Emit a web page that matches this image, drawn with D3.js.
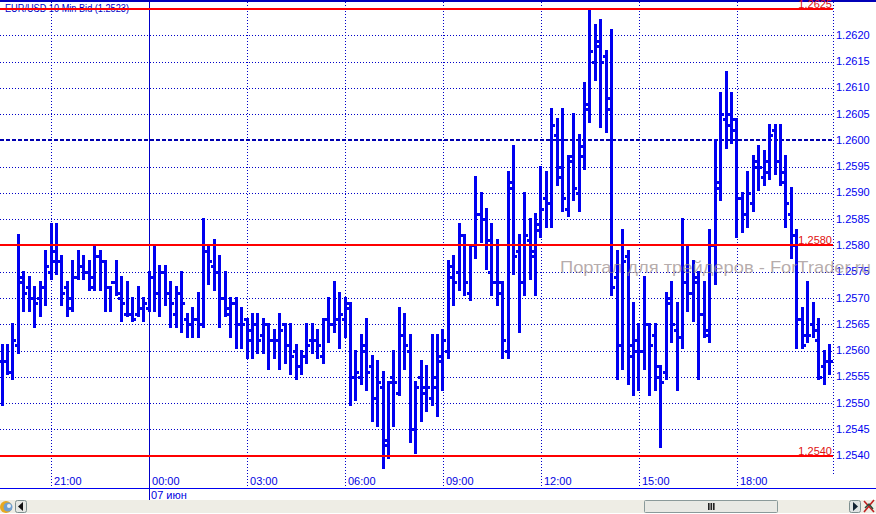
<!DOCTYPE html>
<html><head><meta charset="utf-8">
<script src="https://cdnjs.cloudflare.com/ajax/libs/d3/7.8.5/d3.min.js"></script>
<style>
html,body{margin:0;padding:0;background:#fff;overflow:hidden}
svg{display:block}
text{font-family:"Liberation Sans",Arial,sans-serif}
</style></head><body>
<svg id="c" width="876" height="514"></svg>
<script>
const title = "EUR/USD 10 Min Bid (1.2523)";
const watermark = "Портал для трейдеров - ForTrader.ru";
const dateLabel = "07 июн";
const priceTicks = [1.2620,1.2615,1.2610,1.2605,1.2600,1.2595,1.2590,1.2585,1.2580,1.2575,1.2570,1.2565,1.2560,1.2555,1.2550,1.2545,1.2540];
const timeBars = [9,45,63,81,99,117,135];
const timeLabels = ["21:00","03:00","06:00","09:00","12:00","15:00","18:00"];
const midnightBar = 27;
const midnightLabel = "00:00";
const levels = [1.2625,1.2580,1.2540];
const levelLabels = ["1.2625","1.2580","1.2540"];
const dashedLevel = 1.2600;

const highs = [1.2561,1.2561,1.2565,1.2582,1.2575,1.2574,1.2572,1.2573,1.2579,1.2584,1.2584,1.2578,1.2573,1.2577,1.2579,1.2578,1.2577,1.2580,1.2579,1.2577,1.2572,1.2577,1.2574,1.2573,1.2570,1.2572,1.2570,1.2575,1.2580,1.2576,1.2576,1.2573,1.2572,1.2575,1.2567,1.2568,1.2571,1.2585,1.2580,1.2581,1.2578,1.2575,1.2570,1.2570,1.2568,1.2566,1.2567,1.2567,1.2566,1.2565,1.2564,1.2567,1.2565,1.2565,1.2561,1.2560,1.2565,1.2565,1.2564,1.2566,1.2570,1.2573,1.2571,1.2570,1.2569,1.2560,1.2563,1.2566,1.2559,1.2558,1.2556,1.2554,1.2560,1.2568,1.2567,1.2563,1.2554,1.2558,1.2557,1.2563,1.2563,1.2564,1.2577,1.2578,1.2584,1.2582,1.2580,1.2593,1.2590,1.2587,1.2584,1.2581,1.2573,1.2594,1.2599,1.2582,1.2590,1.2585,1.2586,1.2595,1.2594,1.2606,1.2604,1.2606,1.2597,1.2605,1.2601,1.2611,1.2625,1.2622,1.2623,1.2617,1.2621,1.2579,1.2583,1.2579,1.2569,1.2565,1.2574,1.2565,1.2565,1.2557,1.2571,1.2573,1.2569,1.2585,1.2580,1.2577,1.2575,1.2573,1.2583,1.2600,1.2609,1.2613,1.2609,1.2604,1.2590,1.2594,1.2597,1.2599,1.2598,1.2603,1.2603,1.2603,1.2597,1.2591,1.2583,1.2568,1.2573,1.2569,1.2566,1.2560,1.2561];
const lows = [1.2549,1.2555,1.2554,1.2559,1.2567,1.2567,1.2564,1.2566,1.2568,1.2573,
1.2574,1.2568,1.2566,1.2567,1.2573,1.2573,1.2571,1.2571,1.2571,1.2567,
1.2567,1.2570,1.2565,1.2566,1.2565,1.2566,1.2565,1.2567,1.2567,1.2566,
1.2568,1.2564,1.2564,1.2563,1.2562,1.2562,1.2562,1.2564,1.2572,1.2571,
1.2564,1.2566,1.2562,1.2560,1.2560,1.2558,1.2558,1.2559,1.2559,1.2556,
1.2558,1.2556,1.2557,1.2555,1.2554,1.2555,1.2557,1.2559,1.2558,1.2557,
1.2561,1.2563,1.2560,1.2562,1.2549,1.2550,1.2553,1.2552,1.2546,1.2545,
1.2537,1.2539,1.2545,1.2551,1.2556,1.2542,1.2540,1.2546,1.2548,1.2549,
1.2547,1.2552,1.2558,1.2568,1.2571,1.2570,1.2569,1.2577,1.2580,1.2575,
1.2570,1.2568,1.2558,1.2558,1.2574,1.2563,1.2570,1.2573,1.2570,1.2581,
1.2583,1.2583,1.2591,1.2586,1.2585,1.2588,1.2586,1.2594,1.2603,1.2611,
1.2602,1.2601,1.2570,1.2554,1.2556,1.2553,1.2551,1.2552,1.2556,1.2551,
1.2552,1.2541,1.2554,1.2561,1.2552,1.2560,1.2567,1.2565,1.2554,1.2562,
1.2561,1.2572,1.2588,1.2598,1.2599,1.2581,1.2582,1.2583,1.2586,1.2590,
1.2591,1.2592,1.2593,1.2591,1.2583,1.2577,1.2560,1.2560,1.2561,1.2562,
1.2554,1.2553,1.2555];
const opens = [1.2558,1.2558,1.2556,1.2561,1.2573,1.2572,1.2570,1.2570,1.2572,1.2575,1.2579,1.2577,1.2572,1.2568,1.2574,1.2576,1.2575,1.2574,1.2578,1.2577,1.2572,1.2573,1.2570,1.2567,1.2567,1.2567,1.2568,1.2568,1.2574,1.2571,1.2575,1.2571,1.2567,1.2571,1.2566,1.2565,1.2566,1.2565,1.2579,1.2576,1.2575,1.2570,1.2567,1.2569,1.2565,1.2566,1.2562,1.2565,1.2563,1.2565,1.2562,1.2562,1.2565,1.2561,1.2560,1.2557,1.2559,1.2562,1.2562,1.2559,1.2566,1.2565,1.2566,1.2566,1.2568,1.2555,1.2555,1.2561,1.2557,1.2551,1.2553,1.2542,1.2555,1.2552,1.2563,1.2560,1.2545,1.2555,1.2553,1.2551,1.2553,1.2559,1.2560,1.2574,1.2575,1.2582,1.2571,1.2580,1.2586,1.2585,1.2575,1.2573,1.2573,1.2560,1.2591,1.2579,1.2573,1.2581,1.2579,1.2583,1.2589,1.2588,1.2601,1.2593,1.2587,1.2596,1.2590,1.2597,1.2606,1.2615,1.2618,1.2616,1.2606,1.2574,1.2561,1.2578,1.2559,1.2560,1.2560,1.2565,1.2563,1.2555,1.2556,1.2569,1.2564,1.25625,1.2573,1.2571,1.2574,1.2567,1.2564,1.2580,1.2592,1.2604,1.2605,1.2602,1.2589,1.2586,1.2588,1.2595,1.2593,1.2596,1.2602,1.2596,1.2592,1.2586,1.2582,1.2566,1.2563,1.2565,1.2562,1.2557,1.2558];
const closes = [1.2558,1.2556,1.2562,1.2574,1.2571,1.2570,1.2569,1.2572,1.2576,1.2577,1.2577,1.2571,1.2570,1.2574,1.2576,1.2575,1.2572,1.2578,1.2577,1.2572,1.2573,1.2571,1.2569,1.2567,1.2566,1.2568,1.2569,1.2574,1.2571,1.2575,1.2571,1.2569,1.2571,1.2569,1.2565,1.2566,1.2565,1.2579,1.2577,1.2575,1.2570,1.2568,1.2569,1.2565,1.2565,1.2564,1.2565,1.2562,1.2565,1.2562,1.2562,1.2564,1.2561,1.2559,1.2557,1.2559,1.2561,1.2562,1.2561,1.2566,1.2565,1.2566,1.2567,1.2569,1.2555,1.2556,1.2560,1.2556,1.2551,1.2554,1.2543,1.2554,1.2554,1.2563,1.2561,1.2545,1.2553,1.2552,1.2553,1.2555,1.2558,1.2562,1.2576,1.2573,1.2582,1.2573,1.2580,1.2586,1.2585,1.2581,1.2573,1.2571,1.2562,1.2592,1.2578,1.2573,1.2582,1.2578,1.2584,1.2587,1.2588,1.2603,1.2595,1.2589,1.2597,1.2591,1.2599,1.2607,1.2617,1.2619,1.2615,1.2608,1.2572,1.2561,1.2577,1.2561,1.2562,1.2560,1.2565,1.2561,1.2557,1.2554,1.2570,1.2565,1.25625,1.2573,1.2571,1.2573,1.2567,1.2563,1.2580,1.2591,1.2605,1.2603,1.2604,1.2589,1.2586,1.2590,1.2596,1.2595,1.2594,1.2601,1.2596,1.2594,1.2588,1.2580,1.2566,1.2561,1.2563,1.2564,1.2555,1.2558,1.2558];

const INK = "#0000f0", GRID = "#0000c8", RED = "#ff0000";
const svg = d3.select("#c");
const x = d3.scaleLinear().domain([0,152]).range([2.05,829.5]);
const y = d3.scaleLinear().domain([1.2540,1.2625]).range([455.6,9]);
const px = v => Math.round(v)+0.5;
const rightEdge = 833, axisBottom = 488;

svg.append("g").selectAll("line").data(priceTicks.filter(p=>p!==dashedLevel)).join("line")
  .attr("x1",0).attr("x2",rightEdge).attr("y1",d=>px(y(d))).attr("y2",d=>px(y(d)))
  .attr("stroke",GRID).attr("stroke-dasharray","1 2").attr("shape-rendering","crispEdges");
svg.append("g").selectAll("line").data(timeBars).join("line")
  .attr("x1",d=>px(x(d))).attr("x2",d=>px(x(d))).attr("y1",2).attr("y2",axisBottom)
  .attr("stroke",GRID).attr("stroke-dasharray","1 2").attr("shape-rendering","crispEdges");
svg.append("line").attr("x1",rightEdge+.5).attr("x2",rightEdge+.5).attr("y1",2).attr("y2",475)
  .attr("stroke",GRID).attr("stroke-dasharray","1 2").attr("shape-rendering","crispEdges");
svg.append("line").attr("x1",0).attr("x2",rightEdge).attr("y1",Math.round(y(dashedLevel))).attr("y2",Math.round(y(dashedLevel)))
  .attr("stroke","#0000b0").attr("stroke-width",2).attr("stroke-dasharray","4 2").attr("shape-rendering","crispEdges");

svg.append("line").attr("x1",px(x(midnightBar))).attr("x2",px(x(midnightBar))).attr("y1",0).attr("y2",500)
  .attr("stroke","#0000c8").attr("shape-rendering","crispEdges");
svg.append("rect").attr("x",0).attr("y",0).attr("width",876).attr("height",2).attr("fill","#0000b8");
svg.append("line").attr("x1",0).attr("x2",876).attr("y1",axisBottom+.5).attr("y2",axisBottom+.5)
  .attr("stroke","#0000f0").attr("shape-rendering","crispEdges");

const bars = svg.append("g").attr("shape-rendering","crispEdges").attr("fill",INK);
const idx = d3.range(highs.length);
const stemTop = i => Math.round(y(highs[i]))-1;
const stemEnd = i => Math.round(y(lows[i]))-2;
bars.selectAll("rect.s").data(idx).join("rect").attr("class","s")
  .attr("x",i=>Math.floor(x(i))-1).attr("width",3)
  .attr("y",stemTop).attr("height",i=>Math.max(1,stemEnd(i)-stemTop(i)));
bars.selectAll("rect.o").data(idx).join("rect").attr("class","o")
  .attr("x",i=>Math.floor(x(i))-3).attr("width",3)
  .attr("y",i=>Math.round(y(opens[i]))-1).attr("height",3);
bars.selectAll("rect.c").data(idx).join("rect").attr("class","c")
  .attr("x",i=>Math.floor(x(i))+1).attr("width",3)
  .attr("y",i=>Math.round(y(closes[i]))-1).attr("height",3);

svg.append("text").attr("x",5).attr("y",12).attr("font-size",11.5).attr("fill","#0000c8")
  .attr("textLength",124).attr("lengthAdjust","spacingAndGlyphs").text(title);

svg.append("g").selectAll("line").data(levels).join("line")
  .attr("x1",0).attr("x2",rightEdge).attr("y1",d=>Math.round(y(d))).attr("y2",d=>Math.round(y(d)))
  .attr("stroke",RED).attr("stroke-width",2).attr("shape-rendering","crispEdges");
svg.append("g").selectAll("text").data(levels).join("text")
  .attr("x",832).attr("y",d=>Math.round(y(d))-1).attr("text-anchor","end")
  .attr("font-size",11).attr("fill","#e01010").text((d,i)=>levelLabels[i]);

const yAxis = d3.axisRight(y).tickValues(priceTicks).tickSize(0).tickPadding(0).tickFormat(d3.format(".4f"));
const gy = svg.append("g").attr("transform","translate(836,-0.5)").call(yAxis);
gy.select(".domain").remove();
gy.selectAll("text").attr("font-size",11).attr("fill","#0000f0").attr("font-family",null);
const xAll = [...timeBars,midnightBar];
const xAxis = d3.axisBottom(x).tickValues(xAll).tickSize(0).tickPadding(0)
  .tickFormat(d=> d===midnightBar ? midnightLabel : timeLabels[timeBars.indexOf(d)]);
const gx = svg.append("g").attr("transform","translate(0,477)").call(xAxis);
gx.select(".domain").remove();
gx.selectAll("text").attr("font-size",11).attr("fill","#0000e0").attr("text-anchor","start").attr("dx",2.5).attr("font-family",null);
svg.append("text").attr("x",x(midnightBar)+2).attr("y",499).attr("font-size",11).attr("fill","#0000e0").text(dateLabel);

svg.append("rect").attr("x",0).attr("y",500).attr("width",876).attr("height",13).attr("fill","#eeede5");
svg.append("rect").attr("x",15.5).attr("y",500.5).attr("width",11).attr("height",12).attr("rx",2).attr("fill","#e6e8e4").attr("stroke","#7f9090");
svg.append("path").attr("d","M18 506.5 L23 502 L23 511 Z").attr("fill","#111");
svg.append("rect").attr("x",644.5).attr("y",500.5).attr("width",133).attr("height",12).attr("rx",1).attr("fill","#e8e9e4").attr("stroke","#8a9a9a");
svg.append("g").selectAll("rect").data([0,1,2]).join("rect").attr("x",d=>708+d*2.5).attr("y",503).attr("width",1.6).attr("height",7).attr("fill","#222");
svg.append("rect").attr("x",849.5).attr("y",500.5).attr("width",11).attr("height",12).attr("rx",2).attr("fill","#dfe3e3").attr("stroke","#7f9090");
svg.append("path").attr("d","M853 502 L858 506.5 L853 511 Z").attr("fill","#123");
svg.append("path").attr("d","M864 501 L874 512 M874 500 L864 512").attr("stroke","#c02020").attr("stroke-width",1.6);
svg.append("path").attr("d","M865 508 L869 504 L873 509").attr("stroke","#2a4a3a").attr("fill","none").attr("stroke-width",1.5);
svg.append("circle").attr("cx",6).attr("cy",507).attr("r",6).attr("fill","#e8a820");
svg.append("circle").attr("cx",8).attr("cy",507).attr("r",4.5).attr("fill","#6f9fd0");
svg.append("circle").attr("cx",9).attr("cy",506).attr("r",2).attr("fill","#e8eef4");

svg.append("text").attr("x",560).attr("y",273).attr("font-size",17).attr("fill","#9a8c8c").attr("fill-opacity",0.72)
  .attr("textLength",311).attr("lengthAdjust","spacingAndGlyphs").text(watermark);
</script>
</body></html>
